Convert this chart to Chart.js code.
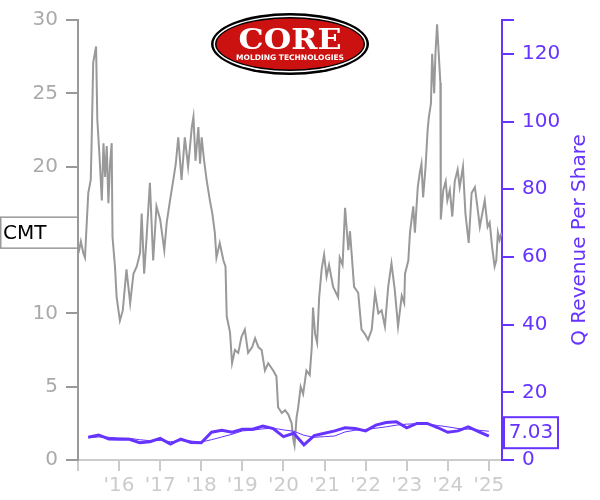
<!DOCTYPE html>
<html>
<head>
<meta charset="utf-8">
<script src="https://cdn.jsdelivr.net/npm/chart.js@4/dist/chart.umd.min.js"></script>
<style>
  html, body { margin:0; padding:0; background:#fff; }
  canvas { display:block; }
</style>
</head>
<body>
<canvas id="c" width="600" height="500" style="width:600px;height:500px"></canvas>
<script>
// CMT daily-ish close (decimal year, price)
const priceDates = [
  2015.01,2015.07,2015.13,2015.17,2015.25,2015.31,2015.33,2015.37,2015.44,2015.47,
  2015.52,2015.58,2015.62,2015.66,2015.70,2015.74,2015.78,2015.82,2015.84,2015.90,
  2015.94,2016.02,2016.09,2016.18,2016.27,2016.35,2016.43,2016.51,2016.55,2016.61,
  2016.67,2016.75,2016.83,2016.91,2017.00,2017.10,2017.16,2017.24,2017.32,2017.38,
  2017.44,2017.52,2017.60,2017.68,2017.77,2017.81,2017.86,2017.93,2017.97,2018.01,
  2018.07,2018.13,2018.21,2018.27,2018.33,2018.37,2018.45,2018.54,2018.59,2018.62,
  2018.70,2018.75,2018.82,2018.90,2018.98,2019.06,2019.14,2019.24,2019.31,2019.39,
  2019.47,2019.55,2019.63,2019.75,2019.83,2019.87,2019.96,2020.04,2020.12,2020.20,
  2020.24,2020.27,2020.32,2020.36,2020.42,2020.48,2020.56,2020.64,2020.69,2020.72,
  2020.77,2020.82,2020.87,2020.93,2020.99,2021.05,2021.11,2021.21,2021.33,2021.37,
  2021.44,2021.50,2021.58,2021.62,2021.72,2021.82,2021.90,2021.98,2022.06,2022.15,
  2022.23,2022.31,2022.39,2022.47,2022.55,2022.63,2022.71,2022.79,2022.88,2022.94,
  2022.96,2023.04,2023.08,2023.16,2023.20,2023.27,2023.32,2023.36,2023.40,2023.46,
  2023.51,2023.54,2023.59,2023.62,2023.67,2023.70,2023.74,2023.78,2023.82,2023.83,
  2023.89,2023.95,2023.99,2024.05,2024.11,2024.17,2024.24,2024.29,2024.37,2024.43,
  2024.51,2024.58,2024.66,2024.72,2024.78,2024.84,2024.90,2024.97,2025.02,2025.08,
  2025.14,2025.18,2025.22,2025.26,2025.31
];
const prices = [
  14.1,14.9,14.1,13.8,18.2,19.1,21.4,27.1,28.2,23.2,
  20.9,17.7,21.6,19.3,21.4,17.5,20.2,21.6,15.2,13.2,
  11.1,9.5,10.2,13.0,10.7,12.7,13.2,14.1,16.8,12.7,
  15.2,18.9,13.6,17.3,16.4,14.3,16.2,17.7,19.1,20.2,
  22.0,19.1,22.0,20.0,22.7,23.4,20.4,22.7,20.2,22.0,
  20.4,19.1,17.7,16.8,15.5,13.8,14.8,13.6,13.2,9.8,
  8.7,6.6,7.5,7.3,8.4,8.9,7.3,7.7,8.3,7.7,
  7.5,6.1,6.6,6.1,5.7,3.6,3.2,3.4,3.1,2.5,
  1.4,1.0,2.9,3.6,5.0,4.5,6.1,5.8,7.7,10.4,
  8.6,8.0,11.1,13.0,14.0,12.5,13.3,11.8,11.1,13.8,
  13.3,17.2,14.3,15.6,11.8,11.4,8.9,8.6,8.2,8.9,
  11.4,10.0,10.2,9.1,11.8,13.4,11.6,9.1,11.2,10.7,
  12.7,13.6,15.5,17.3,15.5,18.6,19.6,20.2,17.9,20.0,
  22.5,23.4,24.3,27.7,25.0,27.7,29.7,27.7,25.7,16.4,
  18.4,19.0,17.7,18.4,16.6,19.0,19.8,18.6,20.0,16.8,
  14.8,18.2,18.6,17.3,15.9,16.8,17.7,15.9,16.2,14.5,
  13.2,13.6,15.5,15.0,15.5
];

// quarterly revenue per share (right axis)
const quarterDates = [
  2015.25,2015.50,2015.75,2016.00,2016.25,2016.50,2016.75,2017.00,
  2017.25,2017.50,2017.75,2018.00,2018.25,2018.50,2018.75,2019.00,
  2019.25,2019.50,2019.75,2020.00,2020.25,2020.50,2020.75,2021.00,
  2021.25,2021.50,2021.75,2022.00,2022.25,2022.50,2022.75,2023.00,
  2023.25,2023.50,2023.75,2024.00,2024.25,2024.50,2024.75,2025.00
];
const revPerShare = [
  6.7,7.4,6.2,6.1,6.1,5.1,5.4,6.4,
  4.7,6.2,5.2,5.1,8.2,8.8,8.2,9.1,
  9.1,10.0,9.3,6.9,7.9,4.5,7.2,7.9,
  8.6,9.5,9.3,8.6,10.3,11.1,11.3,9.5,
  10.8,10.8,9.6,8.2,8.6,9.8,8.4,7.03
];
const revPerShareAvg = [
  6.6,6.8,6.7,6.5,6.4,6.0,5.7,5.8,
  5.4,5.7,5.6,5.3,6.0,6.8,7.6,8.6,
  8.8,9.2,9.4,8.9,8.5,7.3,6.7,6.9,
  7.1,8.3,8.8,9.0,9.4,9.8,10.3,10.6,
  10.7,10.6,10.2,9.8,9.3,9.1,8.8,8.5
];
const yearTicks = [2015,2016,2017,2018,2019,2020,2021,2022,2023,2024,2025];
const revTicks = [0,20,40,60,80,100,120,130];

const PURPLE = '#6633ff';
const FONT = 'DejaVu Sans, sans-serif';

const pts = (xs, ys) => xs.map((x, i) => ({ x, y: ys[i] }));

// logo, right-axis title and end-value tags
const overlay = {
  id: 'overlay',
  afterDraw(chart) {
    const c = chart.ctx;
    const yL = chart.scales.yL, yR = chart.scales.yR;
    const area = chart.chartArea;

    // logo
    c.save();
    const cx = 290, cy = 44;
    c.fillStyle = '#000';
    c.beginPath(); c.ellipse(cx, cy, 79, 31, 0, 0, Math.PI*2); c.fill();
    c.fillStyle = '#fff';
    c.beginPath(); c.ellipse(cx, cy, 76.5, 28.5, 0, 0, Math.PI*2); c.fill();
    c.fillStyle = '#000';
    c.beginPath(); c.ellipse(cx, cy, 75, 27, 0, 0, Math.PI*2); c.fill();
    c.fillStyle = '#cc1111';
    c.beginPath(); c.ellipse(cx, cy, 73.5, 25.5, 0, 0, Math.PI*2); c.fill();
    c.fillStyle = '#fff';
    c.textAlign = 'center'; c.textBaseline = 'alphabetic';
    c.font = 'bold 28px "DejaVu Serif", serif';
    let w = c.measureText('CORE').width;
    c.save(); c.translate(cx, 48.5); c.scale(103 / w, 1); c.fillText('CORE', 0, 0); c.restore();
    c.font = 'bold 7.5px "DejaVu Sans", sans-serif';
    w = c.measureText('MOLDING TECHNOLOGIES').width;
    c.save(); c.translate(cx, 59.5); c.scale(108 / w, 1); c.fillText('MOLDING TECHNOLOGIES', 0, 0); c.restore();
    c.restore();

    // right axis title, reading upward
    c.save();
    c.translate(580, (area.top + area.bottom) / 2);
    c.rotate(-Math.PI / 2);
    c.fillStyle = PURPLE; c.font = '20px ' + FONT;
    c.textAlign = 'center'; c.textBaseline = 'middle';
    c.fillText('Q Revenue Per Share', 0, 0);
    c.restore();

    // ticker tag at last price
    c.save();
    const py = yL.getPixelForValue(prices[prices.length - 1]);
    c.fillStyle = '#fff';
    c.fillRect(0, py - 15.5, 78, 31);
    c.strokeStyle = '#999'; c.lineWidth = 1.5;
    c.strokeRect(0.75, py - 15.5, 77, 31);
    c.fillStyle = '#000'; c.font = '20px ' + FONT;
    c.textAlign = 'left'; c.textBaseline = 'middle';
    c.fillText('CMT', 3, py + 1);

    // last revenue tag
    const last = revPerShare[revPerShare.length - 1];
    const ry = yR.getPixelForValue(last) - 4;
    c.fillStyle = '#fff';
    c.fillRect(503, ry - 16, 55, 32);
    c.strokeStyle = PURPLE; c.lineWidth = 2;
    c.strokeRect(504, ry - 15, 54, 31);
    c.fillStyle = PURPLE; c.textAlign = 'center';
    c.fillText(last.toFixed(2), 531, ry + 1);
    c.restore();
  }
};

new Chart(document.getElementById('c'), {
  type: 'line',
  data: {
    datasets: [
      { label: 'Q Revenue Per Share', data: pts(quarterDates, revPerShare), yAxisID: 'yR',
        borderColor: PURPLE, borderWidth: 3, pointRadius: 0, tension: 0 },
      { label: 'Avg', data: pts(quarterDates, revPerShareAvg), yAxisID: 'yR',
        borderColor: PURPLE, borderWidth: 1, pointRadius: 0, tension: 0 },
      { label: 'CMT', data: pts(priceDates, prices), yAxisID: 'yL',
        borderColor: '#999999', borderWidth: 2, pointRadius: 0, tension: 0 },
    ]
  },
  options: {
    responsive: false, animation: false,
    layout: { padding: { top: 20, left: 0, right: 0, bottom: 0 } },
    plugins: { legend: { display: false }, tooltip: { enabled: false } },
    scales: {
      x: {
        type: 'linear', min: 2015, max: 2025.32,
        afterBuildTicks: s => { s.ticks = yearTicks.map(v => ({ value: v })); },
        afterFit: s => { s.height = 40; },
        ticks: { color: '#cccccc', font: { size: 20, family: FONT }, padding: 3, maxRotation: 0, autoSkip: false,
          callback: v => v === 2015 ? '' : "'" + String(v).slice(2) },
        grid: { drawOnChartArea: false, tickLength: 11, color: '#cccccc', lineWidth: 2 },
        border: { color: '#cccccc', width: 2 }
      },
      yL: {
        position: 'left', min: 0, max: 30,
        afterFit: s => { s.width = 78; },
        ticks: { stepSize: 5, color: '#aaaaaa', font: { size: 20, family: FONT }, padding: 8 },
        grid: { drawOnChartArea: false, tickLength: 12, color: '#999999', lineWidth: 2 },
        border: { color: '#999999', width: 2 }
      },
      yR: {
        position: 'right', min: 0, max: 130,
        afterBuildTicks: s => { s.ticks = revTicks.map(v => ({ value: v })); },
        afterFit: s => { s.width = 98; },
        ticks: { color: PURPLE, font: { size: 20, family: FONT }, padding: 8,
          callback: v => v === 130 ? '' : v },
        grid: { drawOnChartArea: false, tickLength: 12, color: PURPLE, lineWidth: 2 },
        border: { color: PURPLE, width: 2 }
      }
    }
  },
  plugins: [overlay]
});
</script>
</body>
</html>
